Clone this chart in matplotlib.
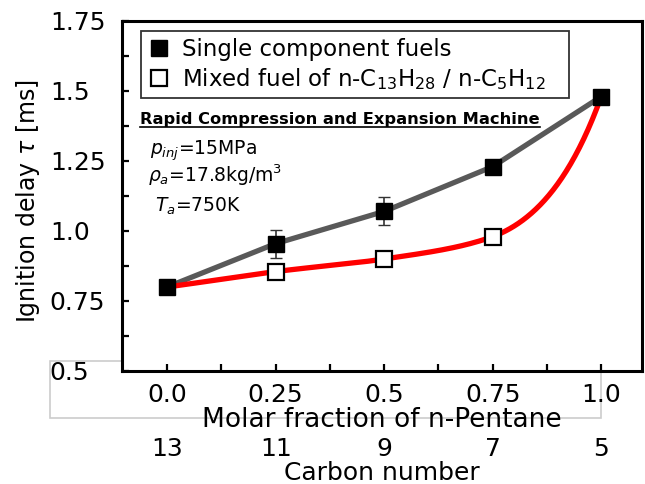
import matplotlib
matplotlib.use("Agg")
import matplotlib.pyplot as plt
import matplotlib.patches as patches
import numpy as np

# dati
frazione = [0.0, 0.25, 0.5, 0.75, 1.0]
singolo = [0.80, 0.955, 1.07, 1.23, 1.48]
singolo_err = [0.0, 0.05, 0.05, 0.0, 0.0]
miscela = [0.80, 0.855, 0.90, 0.98, 1.48]
carbonio = [13, 11, 9, 7, 5]

yticks = [0.5, 0.75, 1.0, 1.25, 1.5, 1.75]
ytick_labels = ["0.5", "0.75", "1.0", "1.25", "1.5", "1.75"]
xtick_labels = ["0.0", "0.25", "0.5", "0.75", "1.0"]


# curva liscia (hermite monotona in scala log) per la linea rossa
def curva_liscia(x, y, off=0.7, n=200):
    x = np.asarray(x, float)
    ly = np.log(np.asarray(y, float) - off)
    h = np.diff(x)
    d = np.diff(ly) / h
    m = np.zeros_like(ly)
    for i in range(1, len(x) - 1):
        if d[i - 1] * d[i] > 0:
            m[i] = 2 / (1 / d[i - 1] + 1 / d[i])
    m[0] = ((2 * h[0] + h[1]) * d[0] - h[0] * d[1]) / (h[0] + h[1])
    m[-1] = ((2 * h[-1] + h[-2]) * d[-1] - h[-1] * d[-2]) / (h[-1] + h[-2])
    xs = np.linspace(x[0], x[-1], n)
    k = np.clip(np.searchsorted(x, xs) - 1, 0, len(h) - 1)
    t = (xs - x[k]) / h[k]
    h00 = 2 * t**3 - 3 * t**2 + 1
    h10 = t**3 - 2 * t**2 + t
    h01 = -2 * t**3 + 3 * t**2
    h11 = t**3 - t**2
    ys = h00 * ly[k] + h10 * h[k] * m[k] + h01 * ly[k + 1] + h11 * h[k] * m[k + 1]
    return xs, np.exp(ys) + off


fig = plt.figure(figsize=(6.45, 4.84), dpi=100)
ax = fig.add_axes([122 / 645, 1 - 371 / 484, 520 / 645, 350 / 484])

# riquadro grigio dietro gli assi
fig.patches.append(patches.Rectangle((50 / 645, 1 - 418 / 484), 551 / 645, 57 / 484,
                                     transform=fig.transFigure, fill=False,
                                     edgecolor="#cccccc", linewidth=1.2, zorder=-1))

# linee
ax.plot(frazione, singolo, color="#595959", linewidth=3.8, zorder=2)
xs, ys = curva_liscia(frazione, miscela)
ax.plot(xs, ys, color="#ff0000", linewidth=3.8, zorder=3)

# barre di errore e marker
ax.errorbar(frazione, singolo, yerr=singolo_err, fmt="none", ecolor="#333333",
            elinewidth=1.2, capsize=4, zorder=4)
h1, = ax.plot(frazione, singolo, "s", color="black", ms=12, zorder=5)
h2, = ax.plot(frazione[1:4], miscela[1:4], "s", ms=11, markerfacecolor="white",
              markeredgecolor="black", markeredgewidth=1.6, zorder=5)

ax.set_xlim(-0.104, 1.094)
ax.set_ylim(0.5, 1.75)

ax.set_xticks(frazione)
ax.set_xticklabels(xtick_labels)
ax.set_xticks(np.arange(0.125, 1.0, 0.25), minor=True)
ax.set_yticks(yticks)
ax.set_yticklabels(ytick_labels)
ax.set_yticks(np.arange(0.625, 1.75, 0.25), minor=True)

ax.tick_params(which="both", direction="in", length=5, width=1.6, top=False, right=False)
ax.tick_params(axis="x", which="major", labelsize=18, pad=8.5)
ax.tick_params(axis="y", which="major", labelsize=18, pad=52)
plt.setp(ax.get_yticklabels(), ha="left")
for s in ax.spines.values():
    s.set_linewidth(2.2)

ax.set_xlabel("Molar fraction of n-Pentane", fontsize=19)
ax.xaxis.label.set_va("center")
ax.xaxis.set_label_coords(0.5, -0.14)
ax.set_ylabel(r"Ignition delay $\tau$ [ms]", fontsize=17)
ax.yaxis.label.set_va("center")
ax.yaxis.set_label_coords(-0.181, 0.486)

# asse secondario: numero di carbonio
sec = ax.secondary_xaxis(-0.189, functions=(lambda x: 13 - 8 * x, lambda c: (13 - c) / 8))
sec.set_xticks(carbonio)
sec.set_xticklabels([str(c) for c in carbonio])
sec.tick_params(length=0, pad=0, labelsize=18)
sec.spines["bottom"].set_visible(False)
sec.set_xlabel("Carbon number", fontsize=18)
sec.xaxis.label.set_va("center")
sec.xaxis.set_label_coords(0.5, -0.291, transform=ax.transAxes)

# legenda
leg = ax.legend([h1, h2], ["Single component fuels",
                           r"Mixed fuel of n-C$_{13}$H$_{28}$ / n-C$_5$H$_{12}$"],
                loc="upper left", bbox_to_anchor=(0.0365, 0.777, 0.823, 0.194),
                mode="expand", borderaxespad=0, fontsize=16.5, fancybox=False,
                edgecolor="#333333", framealpha=1, borderpad=0.3, handlelength=1.0,
                handletextpad=0.5, labelspacing=0.2)
leg.get_frame().set_linewidth(1.3)

# condizioni sperimentali
ax.text(0.0346, 0.706, "Rapid Compression and Expansion Machine", transform=ax.transAxes,
        fontsize=11.7, fontweight="bold", ha="left", va="baseline")
ax.plot([0.0346, 0.804], [0.697, 0.697], color="black", linewidth=1.2,
        transform=ax.transAxes, clip_on=False)
ax.text(0.054, 0.617, r"$p_{inj}$=15MPa", transform=ax.transAxes, fontsize=13.5,
        ha="left", va="baseline")
ax.text(0.05, 0.54, r"$\rho_a$=17.8kg/m$^3$", transform=ax.transAxes, fontsize=13.5,
        ha="left", va="baseline")
ax.text(0.063, 0.454, r"$T_a$=750K", transform=ax.transAxes, fontsize=13.5,
        ha="left", va="baseline")

fig.savefig("out.png", dpi=100)
